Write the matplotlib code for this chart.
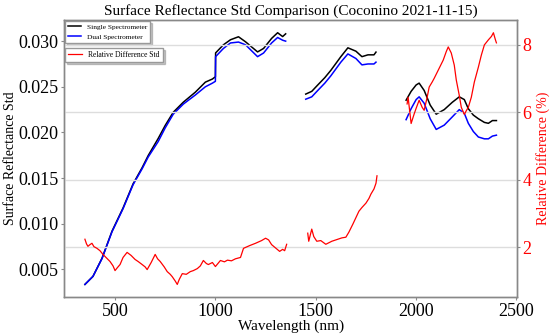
import matplotlib

matplotlib.use("Agg")
import matplotlib.pyplot as plt
from matplotlib.ticker import FormatStrFormatter

plt.rcParams["font.family"] = ["Liberation Serif", "DejaVu Serif"]

# 단일/이중 분광계 반사율 표준편차 — 세 구간
wl_s1 = [350, 390, 435, 485, 540, 590, 635, 665, 715, 750, 790, 840, 900, 950, 985, 1000,
         1001, 1040, 1075, 1115, 1150, 1210, 1240, 1280, 1310, 1335, 1350]
single_s1 = [0.00335, 0.00423, 0.00621, 0.00919, 0.01173, 0.01437, 0.01614, 0.01746, 0.01934, 0.02077, 0.02221, 0.02331, 0.02441, 0.02551, 0.02585, 0.0261,
             0.02871, 0.0296, 0.03015, 0.03048, 0.02993, 0.02882, 0.0292, 0.0303, 0.03092, 0.0305, 0.0308]
dual_s1 = [0.00335, 0.00423, 0.00618, 0.00912, 0.01165, 0.01428, 0.01602, 0.01730, 0.0190, 0.0205, 0.0220, 0.0231, 0.0241, 0.0250, 0.0254, 0.0256,
           0.0283, 0.0292, 0.0298, 0.0299, 0.0296, 0.0283, 0.0287, 0.0298, 0.0304, 0.0301, 0.0300]

wl_s2 = [1450, 1480, 1510, 1545, 1575, 1625, 1660, 1700, 1730, 1760, 1790, 1800]
single_s2 = [0.0242, 0.0245, 0.0252, 0.0260, 0.0268, 0.0283, 0.02927, 0.0289, 0.0283, 0.0285, 0.0285, 0.0288]
dual_s2 = [0.02364, 0.0239, 0.0246, 0.0254, 0.0262, 0.0277, 0.0286, 0.0281, 0.0274, 0.0275, 0.0275, 0.0277]

wl_s3 = [1950, 1975, 2000, 2015, 2040, 2070, 2100, 2140, 2180, 2215, 2240, 2260, 2285, 2310, 2340, 2360, 2380, 2400]
single_s3 = [0.02353, 0.0245, 0.0252, 0.0254, 0.0246, 0.0230, 0.0220, 0.0225, 0.0233, 0.0239, 0.0236, 0.0226, 0.0219, 0.0215, 0.0211, 0.0210, 0.0213, 0.0213]
dual_s3 = [0.0214, 0.0226, 0.0236, 0.0239, 0.0232, 0.0215, 0.02033, 0.0208, 0.0217, 0.0225, 0.0221, 0.0210, 0.0201, 0.0195, 0.0193, 0.0193, 0.0196, 0.0197]

# 상대 차이 표준편차 (%)
wl_r1 = [350, 358, 365, 375, 385, 395, 410, 425, 440, 455, 475, 490, 500, 512, 525, 540, 560, 580, 600, 615,
         635, 650, 660, 680, 700, 712, 725, 745, 760, 775, 785, 800, 810, 820, 835, 855, 875, 890, 910, 925,
         940, 955, 965, 985, 1000, 1025, 1045, 1060, 1080, 1100, 1125, 1140, 1170, 1200, 1230, 1250, 1265, 1280,
         1300, 1320, 1335, 1345, 1355]
red_r1 = [2.24, 2.10, 2.03, 2.08, 2.12, 2.02, 1.97, 1.90, 1.79, 1.70, 1.58, 1.45, 1.31, 1.40, 1.49, 1.70, 1.85, 1.76, 1.64, 1.58,
          1.49, 1.42, 1.34, 1.55, 1.79, 1.66, 1.58, 1.42, 1.28, 1.20, 1.13, 1.00, 0.90, 1.05, 1.22, 1.20, 1.28, 1.31, 1.37, 1.45,
          1.61, 1.52, 1.49, 1.55, 1.43, 1.61, 1.57, 1.62, 1.60, 1.66, 1.70, 1.97, 2.05, 2.12, 2.20, 2.27, 2.22, 2.08,
          1.98, 1.88, 1.94, 1.90, 2.09]

wl_r2 = [1460, 1465, 1480, 1490, 1505, 1525, 1550, 1580, 1610, 1630, 1650, 1665, 1685, 1700, 1715, 1730, 1750, 1765, 1775, 1790, 1800, 1805]
red_r2 = [2.42, 2.18, 2.54, 2.32, 2.18, 2.20, 2.09, 2.18, 2.24, 2.28, 2.30, 2.45, 2.69, 2.88, 3.07, 3.18, 3.31, 3.45, 3.58, 3.73, 3.90, 4.12]

wl_r3 = [1955, 1960, 1975, 1990, 2000, 2015, 2030, 2040, 2055, 2065, 2080, 2090, 2110, 2135, 2150, 2160, 2175, 2190, 2200, 2215,
         2225, 2240, 2250, 2260, 2275, 2290, 2310, 2325, 2340, 2360, 2375, 2385, 2395, 2400]
red_r3 = [6.25, 6.45, 5.67, 5.95, 6.12, 6.36, 6.15, 6.06, 6.45, 6.75, 6.90, 7.01, 7.25, 7.55, 7.80, 7.94, 7.76, 7.40, 6.96, 6.50,
          6.15, 5.94, 6.05, 6.15, 6.45, 6.90, 7.34, 7.70, 8.00, 8.15, 8.25, 8.36, 8.15, 8.06]

fig = plt.figure(figsize=(5.5, 3.36), dpi=100)
ax1 = fig.add_axes([0.117, 0.116, 0.823, 0.824])
ax2 = ax1.twinx()

# 반사율 표준편차 (좌측 축)
for i, (wl, s, d) in enumerate([(wl_s1, single_s1, dual_s1), (wl_s2, single_s2, dual_s2), (wl_s3, single_s3, dual_s3)]):
    ax1.plot(wl, s, color="black", lw=1.1, label="Single Spectrometer" if i == 0 else None)
    ax1.plot(wl, d, color="blue", lw=1.1, label="Dual Spectrometer" if i == 0 else None)

# 상대 차이 (우측 축)
for i, (wl, r) in enumerate([(wl_r1, red_r1), (wl_r2, red_r2), (wl_r3, red_r3)]):
    ax2.plot(wl, r, color="red", lw=0.9, label="Relative Difference Std" if i == 0 else None)

ax1.set_xlim(247.5, 2502.5)
ax1.set_xticks([500, 1000, 1500, 2000, 2500])
ax1.set_yticks([0.005, 0.010, 0.015, 0.020, 0.025, 0.030])
ax1.yaxis.set_major_formatter(FormatStrFormatter("%.3f"))
ax2.set_yticks([2, 4, 6, 8])

ax1.grid(False)
ax2.grid(True, axis="y", color="#dddddd", lw=1.0)

ax1.tick_params(axis="y", labelsize=13, length=2, color="#888888", pad=2)
ax1.tick_params(axis="x", labelsize=13, length=2, color="#888888", pad=2)
ax2.tick_params(axis="y", labelsize=13, length=2, color="#888888", labelcolor="red", pad=2)

for ax in (ax1, ax2):
    for sp in ax.spines.values():
        sp.set_color("#888888")
        sp.set_linewidth(1.0)

ax1.set_xlabel("Wavelength (nm)", fontsize=11, labelpad=0)
ax1.set_ylabel("Surface Reflectance Std", fontsize=10, labelpad=1)
ax2.set_ylabel("Relative Difference (%)", fontsize=10, color="red", labelpad=3)
ax1.set_title("Surface Reflectance Std Comparison (Coconino 2021-11-15)", fontsize=11, pad=4)

shadow = {"ox": 1.5, "oy": -1.5, "alpha": 0.3}
ax1.legend(loc="upper left", fontsize=5.3, bbox_to_anchor=(0.0, 1.0), borderaxespad=0.1,
           fancybox=False, shadow=shadow, framealpha=1, edgecolor="#999999", handlelength=1.8,
           labelspacing=0.5)
ax2.legend(loc="upper left", fontsize=5.5, bbox_to_anchor=(0.0, 0.902), borderaxespad=0.1,
           fancybox=False, shadow=shadow, framealpha=1, edgecolor="#999999", handlelength=1.8)

fig.savefig("out.png", dpi=100)
plt.close(fig)
